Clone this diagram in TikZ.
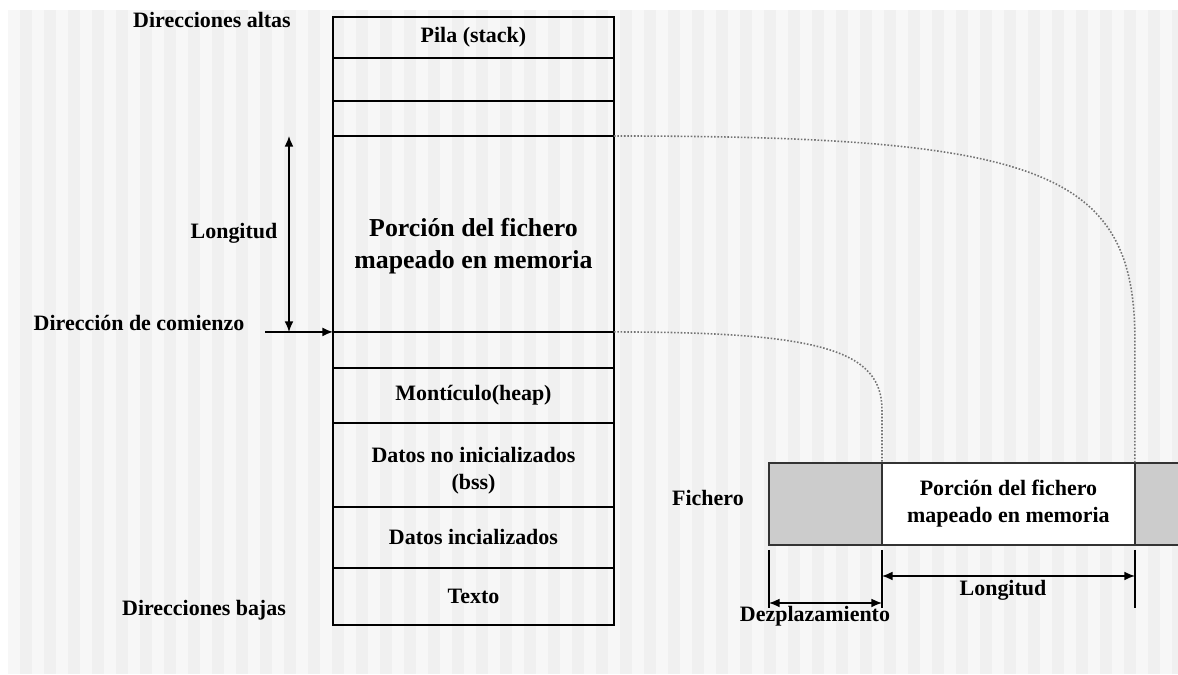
\documentclass[tikz,border=0pt]{standalone}
\usepackage{fontspec}
\setmainfont{Liberation Serif}
\usetikzlibrary{positioning,arrows.meta}

\begin{document}
\begin{tikzpicture}[%
  x=0.02cm, y=-0.02cm,
  >={Latex[length=6pt,width=5pt]},
  every node/.style={font=\fontsize{12.5}{15.3}\selectfont\bfseries},
  seg/.style={rectangle, draw, line width=0.8pt, outer sep=0pt, inner sep=0pt, minimum width=5.62cm, align=center},
  filebox/.style={rectangle, draw=black!80, line width=0.8pt, outer sep=0pt, inner sep=0pt, minimum height=1.64cm, align=center},
  link/.style={densely dotted, black!55, line width=0.9pt},
  dim/.style={line width=0.8pt},]
  \useasboundingbox (0,0) rectangle (1178,674);
  % fondo a rayas
  \fill[black!3] (8,10) rectangle (1178,674);
  \foreach \i in {0,...,48}
    \fill[black!6] ({20+24*\i},10) rectangle ++(12,664);

  % mapa de memoria del proceso
  \node[seg, minimum height=0.82cm, anchor=north west] (pila) at (333,17) {Pila (stack)};
  \node[seg, minimum height=0.86cm, below=0pt of pila] (libre1) {};
  \node[seg, minimum height=0.70cm, below=0pt of libre1] (libre2) {};
  \node[seg, minimum height=3.92cm, below=0pt of libre2] (mapa) {};
  \node[seg, minimum height=0.72cm, below=0pt of mapa] (libre3) {};
  \node[seg, minimum height=1.10cm, below=0pt of libre3] (heap) {Montículo(heap)};
  \node[seg, minimum height=1.68cm, below=0pt of heap] (bss) {};
  \node[seg, minimum height=1.22cm, below=0pt of bss] (datos) {Datos incializados};
  \node[seg, minimum height=1.14cm, below=0pt of datos] (texto) {Texto};
  \node[align=center, font=\fontsize{14.7}{18.1}\selectfont\bfseries] (mapatxt)
    at ([yshift=-0.24cm]mapa.center) {Porción del fichero\\mapeado en memoria};
  \node[align=center] (bsstxt) at ([yshift=-0.12cm]bss.center) {Datos no inicializados\\(bss)};

  % fichero
  \node[filebox, fill=black!20, minimum width=2.26cm, anchor=north west] (gris1) at (769,463) {};
  \node[filebox, fill=white, minimum width=5.06cm, right=0pt of gris1] (blanco) {Porción del fichero\\mapeado en memoria};
  \node[filebox, fill=black!20, minimum width=0.9cm, right=0pt of blanco] (gris2) {};

  % rotulos
  \node (altas) at (212,20) {Direcciones altas};
  \node (bajas) at (204,610) {Direcciones bajas};
  \node (longmem) at (234,233) {Longitud};
  \node (comienzo) at (139,323) {Dirección de comienzo};
  \node (fichero) at (708,498) {Fichero};
  \node (despl) at (815,616) {Dezplazamiento};
  \node (longfich) at (1003,590) {Longitud};

  % flechas
  \coordinate (lenx) at (289,0);
  \coordinate (inicio) at (265,0);
  \draw[<->, dim] (mapa.north west -| lenx) -- (mapa.south west -| lenx);
  \draw[->, dim] (mapa.south west -| inicio) -- (mapa.south west);

  \draw[link] (mapa.north east) .. controls +(426,0) and +(0,-170) .. ([yshift=2.46cm]blanco.north east) -- (blanco.north east);
  \draw[link] (mapa.south east) .. controls +(206,0) and +(0,-60) .. ([yshift=1.06cm]blanco.north west) -- (blanco.north west);

  \draw[dim] ([yshift=-0.1cm]gris1.south west) -- ++(0,58);
  \draw[dim] ([yshift=-0.1cm]gris1.south east) -- ++(0,58);
  \draw[dim] ([yshift=-0.1cm]blanco.south east) -- ++(0,58);
  \draw[<->, dim] ([yshift=-1.16cm]gris1.south west) -- ([yshift=-1.16cm]gris1.south east);
  \draw[<->, dim] ([yshift=-0.62cm]blanco.south west) -- ([yshift=-0.62cm]blanco.south east);
\end{tikzpicture}
\end{document}
